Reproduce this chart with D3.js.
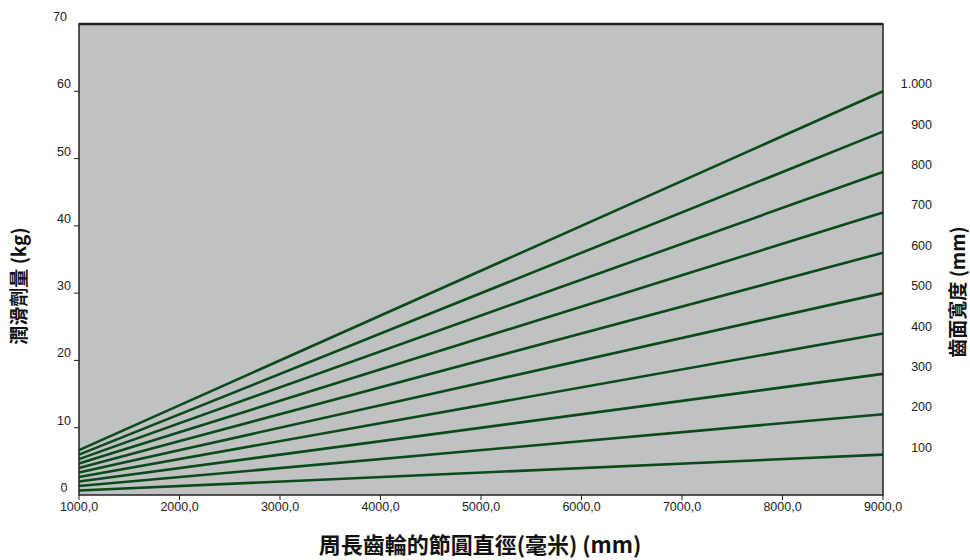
<!DOCTYPE html>
<html><head><meta charset="utf-8">
<script src="https://cdn.jsdelivr.net/npm/d3@7"></script>
<style>body{margin:0;background:#fff}text{font-family:"Liberation Sans",Arial,sans-serif}</style>
</head><body><svg id="c" width="970" height="560"></svg>
<script>
const xTicks = [1000,2000,3000,4000,5000,6000,7000,8000,9000];
const xTickLabels = ["1000,0","2000,0","3000,0","4000,0","5000,0","6000,0","7000,0","8000,0","9000,0"];
const yTicks = [0,10,20,30,40,50,60,70];
const rightTicks = [100,200,300,400,500,600,700,800,900,1000];
const rightTickLabels = ["100","200","300","400","500","600","700","800","900","1.000"];
// lubricant amount (kg) at x=1000 and x=9000 per face width line
const lineStart = [0.67,1.33,2.0,2.67,3.33,4.0,4.67,5.33,6.0,6.67];
const lineEnd = [6,12,18,24,30,36,42,48,54,60];
const xTitle = "周長齒輪的節圓直徑(毫米) (mm)";
const yTitle = "潤滑劑量 (kg)";
const y2Title = "齒面寬度 (mm)";

const svg = d3.select("#c");
const L=79,R=883,T=24,B=495;
const x = d3.scaleLinear().domain([1000,9000]).range([L,R]);
const y = d3.scaleLinear().domain([0,70]).range([B,T]);
const y2 = d3.scaleLinear().domain([0,7000/6]).range([B,T]);

svg.append("rect").attr("x",L).attr("y",T).attr("width",R-L).attr("height",B-T).attr("fill","#c0c1c3");

const line = d3.line().x(d=>x(d[0])).y(d=>y(d[1]));
lineStart.forEach((s,i)=>{
  svg.append("path").attr("d",line([[1000,s],[9000,lineEnd[i]]]))
    .attr("fill","none").attr("stroke","#0b4a1a").attr("stroke-width",2.6);
});

// frame
svg.append("rect").attr("x",L).attr("y",T).attr("width",R-L).attr("height",B-T)
  .attr("fill","none").attr("stroke","#222").attr("stroke-width",1.5);
svg.append("line").attr("x1",L).attr("x2",R).attr("y1",T).attr("y2",T).attr("stroke","#222").attr("stroke-width",2.5);

// left axis
const gl = svg.append("g");
yTicks.forEach(v=>{
  if(v>0 && v<70) gl.append("line").attr("x1",L-5).attr("x2",L).attr("y1",y(v)).attr("y2",y(v)).attr("stroke","#222");
  gl.append("text").attr("x",v===70?60:64).attr("y",y(v)-3).attr("text-anchor","middle")
    .attr("font-size",12.5).attr("fill","#222").text(v);
});
// bottom axis
const gb = svg.append("g");
xTicks.forEach((v,i)=>{
  gb.append("line").attr("x1",x(v)).attr("x2",x(v)).attr("y1",B).attr("y2",B+5).attr("stroke","#222");
  gb.append("text").attr("x",x(v)).attr("y",B+16).attr("text-anchor","middle")
    .attr("font-size",12.5).attr("fill","#222").text(xTickLabels[i]);
});
// right axis labels
const gr = svg.append("g");
rightTicks.forEach((v,i)=>{
  gr.append("text").attr("x",932).attr("y",y2(v)-3).attr("text-anchor","end")
    .attr("font-size",12.5).attr("fill","#222").text(rightTickLabels[i]);
});

const cjk = "'Noto Sans CJK TC','Liberation Sans',sans-serif";
svg.append("text").attr("x",480).attr("y",553).attr("text-anchor","middle")
  .attr("font-size",22).attr("font-weight","bold").attr("fill","#111")
  .style("font-family",cjk).text(xTitle);
svg.append("text").attr("transform","translate(26,286) rotate(-90)").attr("text-anchor","middle")
  .attr("font-size",19).attr("font-weight","bold").attr("fill","#111")
  .style("font-family",cjk).text(yTitle);
svg.append("text").attr("transform","translate(965,292) rotate(-90)").attr("text-anchor","middle")
  .attr("font-size",19).attr("font-weight","bold").attr("fill","#111")
  .style("font-family",cjk).text(y2Title);
</script></body></html>
